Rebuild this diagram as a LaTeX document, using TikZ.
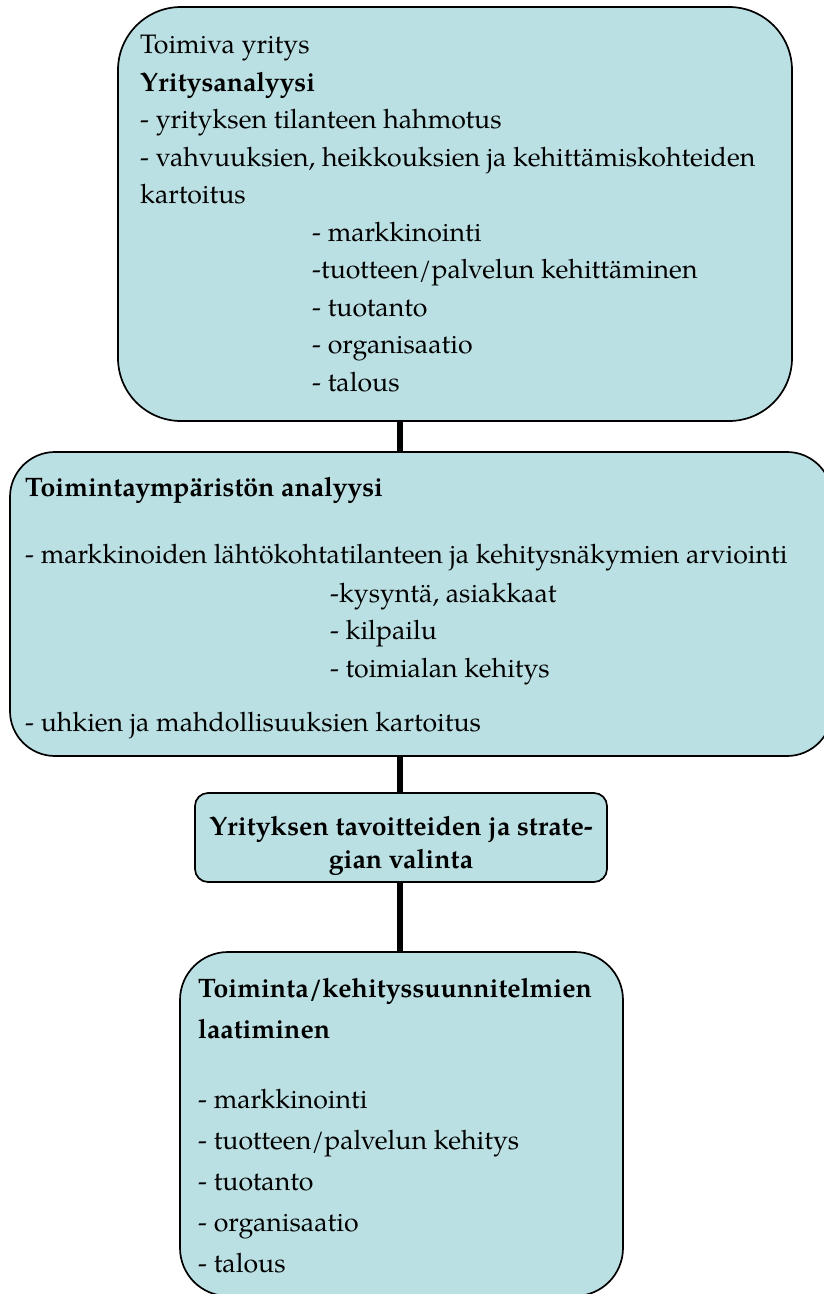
\documentclass[tikz,border=0pt]{standalone}
\usepackage{fontspec}
\setmainfont{TeX Gyre Pagella}
\definecolor{panelblue}{RGB}{187,224,227}

\begin{document}
\begin{tikzpicture}[x=1pt, y=-1pt,
    panel/.style={draw, line width=1.7pt, fill=panelblue, inner sep=0pt},
    body/.style={anchor=base west, align=left, inner sep=0pt, font={\fontsize{26.7}{37.5}\selectfont}},
    link/.style={line width=6.5pt}
]
\useasboundingbox (0,0) rectangle (824,1294);

% boxes
\node[panel, rounded corners=63, minimum width=674, minimum height=414] (yritys) at (455,214) {};
\node[panel, rounded corners=45, minimum width=822, minimum height=304] (ymparisto) at (421,604) {};
\node[panel, rounded corners=13, minimum width=412, minimum height=89] (strategia) at (401,837.5) {};
\node[panel, rounded corners=48, minimum width=443, minimum height=344] (suunnitelma) at (401.5,1124) {};

% spine
\coordinate (spine) at (400,0);
\draw[link] (spine |- yritys.south) -- (spine |- ymparisto.north);
\draw[link] (spine |- ymparisto.south) -- (spine |- strategia.north);
\draw[link] (spine |- strategia.south) -- (spine |- suunnitelma.north);

% texts (anchored at the last baseline)
\node[body] (yritysTxt) at (140,391) {Toimiva yritys\\
\textbf{Yritysanalyysi}\\
- yrityksen tilanteen hahmotus\\
- vahvuuksien, heikkouksien ja kehittämiskohteiden\\
kartoitus\\
\hspace*{172pt}- markkinointi\\
\hspace*{172pt}-tuotteen/palvelun kehittäminen\\
\hspace*{172pt}- tuotanto\\
\hspace*{172pt}- organisaatio\\
\hspace*{172pt}- talous};

\node[body] (ymparistoTxt) at (25,731) {\textbf{Toimintaympäristön analyysi}\\[29.5pt]
- markkinoiden lähtökohtatilanteen ja kehitysnäkymien arviointi\\[1.5pt]
\hspace*{305pt}-kysyntä, asiakkaat\\
\hspace*{305pt}- kilpailu\\
\hspace*{305pt}- toimialan kehitys\\[16.5pt]
- uhkien ja mahdollisuuksien kartoitus};

\node[anchor=base, align=center, inner sep=0pt, font={\fontsize{26.7}{33}\selectfont\bfseries}] (strategiaTxt) at (401,868)
  {Yrityksen tavoitteiden ja strate-\\gian valinta};

\node[body, font={\fontsize{26.7}{41}\selectfont}] (suunnitelmaTxt) at (198,1272) {\textbf{Toiminta/kehityssuunnitelmien}\\
\textbf{laatiminen}\\[29pt]
- markkinointi\\
- tuotteen/palvelun kehitys\\
- tuotanto\\
- organisaatio\\
- talous};
\end{tikzpicture}
\end{document}
